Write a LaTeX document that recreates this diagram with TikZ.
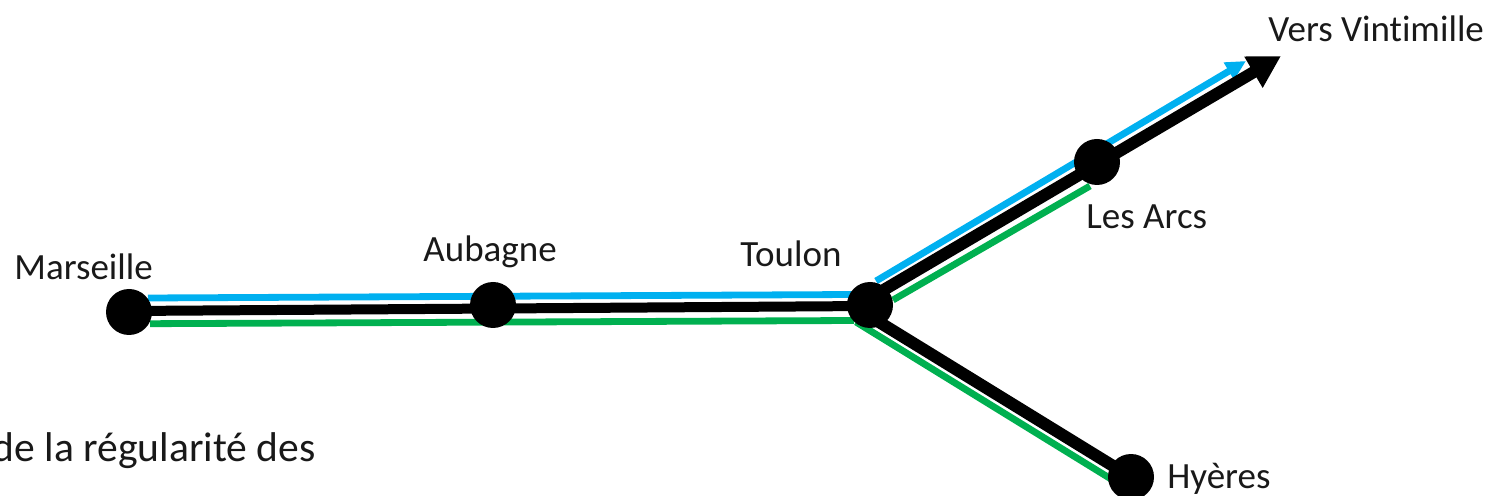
\documentclass[tikz,border=0pt]{standalone}
\usepackage{fontspec}
\setmainfont[Ligatures=NoCommon,Contextuals=NoAlternate]{Carlito}
\usetikzlibrary{arrows.meta,backgrounds}
\definecolor{lineblue}{RGB}{0,176,240}
\definecolor{linegreen}{RGB}{0,176,80}
\tikzset{
  x=0.5pt,y=-0.5pt,
  stop/.style={circle,fill=black,draw=none,minimum size=23pt,inner sep=0pt},
  lab/.style={inner sep=0pt,anchor=base west,font=\fontsize{18.5pt}{22pt}\selectfont,text=black!90},
  body/.style={inner sep=0pt,anchor=base east,font=\fontsize{20.8pt}{25pt}\selectfont,text=black!90},
  blackline/.style={line width=5pt,black},
  blackdiag/.style={line width=6pt,black},
  blueline/.style={line width=3.4pt,color=lineblue},
  greenline/.style={line width=3.4pt,color=linegreen},
}
\begin{document}
\begin{tikzpicture}
\useasboundingbox (0,0) rectangle (1488,496);
\clip (0,0) rectangle (1488,496);
\coordinate (tip) at (1281,56);
\coordinate (bs1) at (148,298);
\coordinate (bs2) at (853,294.5);
\coordinate (bs3) at (876,281);
\coordinate (bs4) at (1246,61);
\coordinate (gs1) at (150,323.7);
\coordinate (gs2) at (854,320.5);
\coordinate (gs3) at (893,300);
\coordinate (gs4) at (1090,186);
\coordinate (gs5) at (856,322);
\coordinate (gs6) at (1111,479);
\coordinate (mm) at (129,311);
\coordinate (tt) at (870,306);
\coordinate (ttup) at (870,298);
\coordinate (ttdown) at (870,316.5);
\node[stop] (marseille) at (129,312) {};
\node[stop] (aubagne) at (493,305) {};
\node[stop] (toulon) at (870,305) {};
\node[stop] (arcs) at (1097,162) {};
\node[stop] (hyeres) at (1131,477) {};
\begin{scope}[on background layer]
\draw[blueline] (bs1) -- (bs2);
\draw[blueline,-{Triangle[length=10pt,width=9.5pt]}] (bs3) -- (bs4);
\draw[greenline] (gs1) -- (gs2);
\draw[greenline] (gs3) -- (gs4);
\draw[greenline] (gs5) -- (gs6);
\draw[blackline] (mm) -- (tt);
\draw[blackdiag] (ttdown) -- (hyeres.center);
\draw[blackdiag,-{Triangle[length=16pt,width=17pt]}] (ttup) -- (tip);
\end{scope}
\node[lab] (l1) at (14,280) {Marseille};
\node[lab] (l2) at (423,262) {Aubagne};
\node[lab] (l3) at (740,267) {Toulon};
\node[lab] (l4) at (1268,42) {Vers Vintimille};
\node[lab] (l5) at (1086,229) {Les Arcs};
\node[lab] (l6) at (1167,488) {Hyères};
\node[body] (t1) at (316,461) {de la régularité des};
\end{tikzpicture}
\end{document}
